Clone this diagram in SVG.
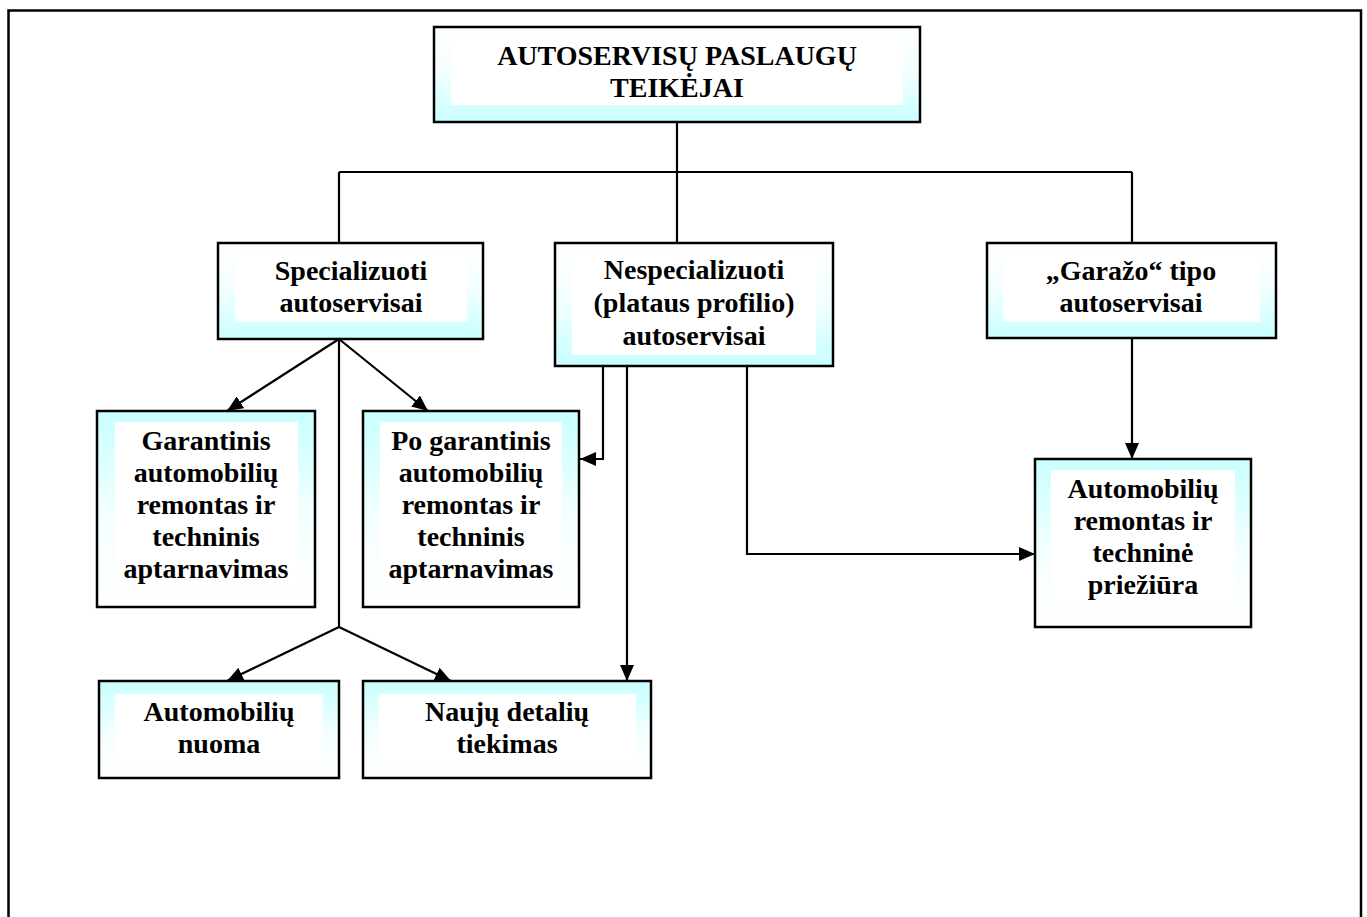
<svg xmlns="http://www.w3.org/2000/svg" width="1367" height="917" viewBox="0 0 1367 917">
<defs>
<linearGradient id="gDown" x1="0" y1="0" x2="0" y2="1">
<stop offset="0" stop-color="#ffffff"/><stop offset="0.45" stop-color="#f4ffff"/><stop offset="1" stop-color="#c8ffff"/>
</linearGradient>
<linearGradient id="gUp" x1="0" y1="0" x2="0" y2="1">
<stop offset="0" stop-color="#c8ffff"/><stop offset="0.55" stop-color="#f4ffff"/><stop offset="1" stop-color="#ffffff"/>
</linearGradient>
<marker id="arr" markerUnits="userSpaceOnUse" markerWidth="17" markerHeight="14" refX="16" refY="7" orient="auto">
<path d="M0,0 L16,7 L0,14 z" fill="#000"/>
</marker>
<style>
.frame{fill:none;stroke:#000;stroke-width:2.5}
.box{stroke:#000;stroke-width:2.5}
.in{fill:#fff}
.t{font-family:"Liberation Serif","Times New Roman",serif;font-weight:bold;font-size:28px;fill:#000;text-anchor:middle}
.c{fill:none;stroke:#000;stroke-width:2.2}
.a{fill:none;stroke:#000;stroke-width:2.2;marker-end:url(#arr)}
</style>
</defs>
<rect class="frame" x="8.5" y="10.5" width="1352.5" height="1000"/>
<g id="connectors">
<path class="c" d="M677,122 V172 M339,172 H1132 M339,172 V243 M677,172 V243 M1132,172 V243"/>
<path class="c" d="M339,339 V627"/>
<path class="a" d="M339,339 L227,411"/>
<path class="a" d="M339,339 L428,411"/>
<path class="a" d="M339,627 L227,681"/>
<path class="a" d="M339,627 L451,681"/>
<path class="a" d="M603,367 V459 H580"/>
<path class="a" d="M627,367 V681"/>
<path class="a" d="M747,367 V554 H1035"/>
<path class="a" d="M1132,338 V459"/>
</g>
<g id="n-top">
<rect class="box" x="434" y="27" width="486" height="95" fill="url(#gDown)"/>
<rect class="in" x="451" y="37" width="452" height="68"/>
<text class="t" x="677" y="65">AUTOSERVISŲ PASLAUGŲ</text>
<text class="t" x="677" y="97">TEIKĖJAI</text>
</g>
<g id="n-spec">
<rect class="box" x="218" y="243" width="265" height="96" fill="url(#gDown)"/>
<rect class="in" x="235" y="253" width="232" height="69"/>
<text class="t" x="351" y="280">Specializuoti</text>
<text class="t" x="351" y="312">autoservisai</text>
</g>
<g id="n-nesp">
<rect class="box" x="555" y="243" width="278" height="123" fill="url(#gDown)"/>
<rect class="in" x="572" y="255" width="244" height="100"/>
<text class="t" x="694" y="279">Nespecializuoti</text>
<text class="t" x="694" y="312">(plataus profilio)</text>
<text class="t" x="694" y="345">autoservisai</text>
</g>
<g id="n-garazo">
<rect class="box" x="987" y="243" width="289" height="95" fill="url(#gDown)"/>
<rect class="in" x="1003" y="253" width="257" height="69"/>
<text class="t" x="1131" y="280">„Garažo“ tipo</text>
<text class="t" x="1131" y="312">autoservisai</text>
</g>
<g id="n-garantinis">
<rect class="box" x="97" y="411" width="218" height="196" fill="url(#gUp)"/>
<rect class="in" x="115" y="422" width="183" height="163"/>
<text class="t" x="206" y="450">Garantinis</text>
<text class="t" x="206" y="482">automobilių</text>
<text class="t" x="206" y="514">remontas ir</text>
<text class="t" x="206" y="546">techninis</text>
<text class="t" x="206" y="578">aptarnavimas</text>
</g>
<g id="n-pogarantinis">
<rect class="box" x="363" y="411" width="216" height="196" fill="url(#gUp)"/>
<rect class="in" x="380" y="422" width="182" height="163"/>
<text class="t" x="471" y="450">Po garantinis</text>
<text class="t" x="471" y="482">automobilių</text>
<text class="t" x="471" y="514">remontas ir</text>
<text class="t" x="471" y="546">techninis</text>
<text class="t" x="471" y="578">aptarnavimas</text>
</g>
<g id="n-remontas">
<rect class="box" x="1035" y="459" width="216" height="168" fill="url(#gUp)"/>
<rect class="in" x="1051" y="470" width="184" height="133"/>
<text class="t" x="1143" y="498">Automobilių</text>
<text class="t" x="1143" y="530">remontas ir</text>
<text class="t" x="1143" y="562">techninė</text>
<text class="t" x="1143" y="594">priežiūra</text>
</g>
<g id="n-nuoma">
<rect class="box" x="99" y="681" width="240" height="97" fill="url(#gUp)"/>
<rect class="in" x="115" y="694" width="208" height="68"/>
<text class="t" x="219" y="721">Automobilių</text>
<text class="t" x="219" y="753">nuoma</text>
</g>
<g id="n-naujos">
<rect class="box" x="363" y="681" width="288" height="97" fill="url(#gUp)"/>
<rect class="in" x="379" y="694" width="257" height="68"/>
<text class="t" x="507" y="721">Naujų detalių</text>
<text class="t" x="507" y="753">tiekimas</text>
</g>
</svg>
